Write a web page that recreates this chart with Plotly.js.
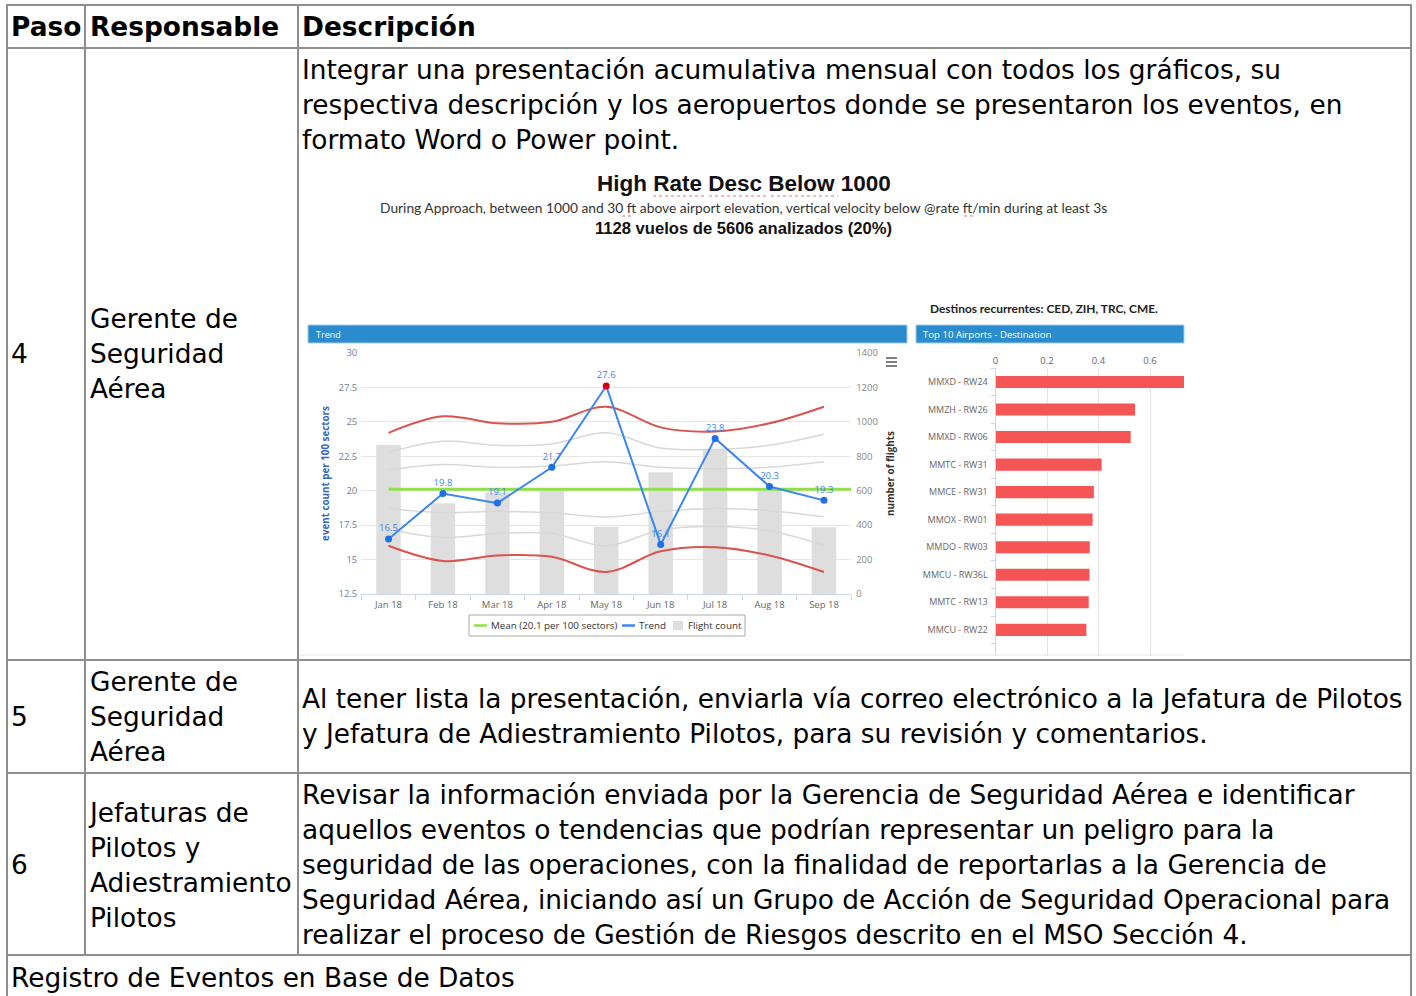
<!DOCTYPE html>
<html>
<head>
<meta charset="utf-8">
<script src="https://cdn.plot.ly/plotly-3.0.1.min.js"></script>
<style>
  html, body { margin: 0; padding: 0; background: #fff; }
  body { width: 1416px; height: 996px; position: relative; overflow: hidden;
         font-family: "DejaVu Sans", sans-serif; font-size: 26.4px; color: #000; }
  .hl { position: absolute; height: 2px; background: #8e8e8e; }
  .vl { position: absolute; width: 2px; background: #8e8e8e; }
  .tx { position: absolute; line-height: 35px; white-space: pre; }
  .b { font-weight: bold; }
  #chart { position: absolute; left: 300px; top: 160px; width: 890px; height: 500px; }
</style>
</head>
<body>
<!-- table grid -->
<div class="hl" style="left:6px; top:4px; width:1406px;"></div>
<div class="hl" style="left:6px; top:47px; width:1406px;"></div>
<div class="hl" style="left:6px; top:659px; width:1406px;"></div>
<div class="hl" style="left:6px; top:772px; width:1406px;"></div>
<div class="hl" style="left:6px; top:954px; width:1406px;"></div>
<div class="vl" style="left:6px; top:4px; height:1000px;"></div>
<div class="vl" style="left:1410px; top:4px; height:1000px;"></div>
<div class="vl" style="left:84px; top:4px; height:952px;"></div>
<div class="vl" style="left:297px; top:4px; height:952px;"></div>

<!-- header -->
<div class="tx b" style="left:11px; top:9px;">Paso</div>
<div class="tx b" style="left:90px; top:9px;">Responsable</div>
<div class="tx b" style="left:302px; top:9px;">Descripción</div>

<!-- row 4 -->
<div class="tx" style="left:11px; top:336px;">4</div>
<div class="tx" style="left:90px; top:301px;">Gerente de
Seguridad
Aérea</div>
<div class="tx" style="left:302px; top:52px;">Integrar una presentación acumulativa mensual con todos los gráficos, su
respectiva descripción y los aeropuertos donde se presentaron los eventos, en
formato Word o Power point.</div>

<!-- row 5 -->
<div class="tx" style="left:11px; top:699px;">5</div>
<div class="tx" style="left:90px; top:664px;">Gerente de
Seguridad
Aérea</div>
<div class="tx" style="left:302px; top:681px;">Al tener lista la presentación, enviarla vía correo electrónico a la Jefatura de Pilotos
y Jefatura de Adiestramiento Pilotos, para su revisión y comentarios.</div>

<!-- row 6 -->
<div class="tx" style="left:11px; top:847px;">6</div>
<div class="tx" style="left:90px; top:795px;">Jefaturas de
Pilotos y
Adiestramiento
Pilotos</div>
<div class="tx" style="left:302px; top:777px;">Revisar la información enviada por la Gerencia de Seguridad Aérea e identificar
aquellos eventos o tendencias que podrían representar un peligro para la
seguridad de las operaciones, con la finalidad de reportarlas a la Gerencia de
Seguridad Aérea, iniciando así un Grupo de Acción de Seguridad Operacional para
realizar el proceso de Gestión de Riesgos descrito en el MSO Sección 4.</div>

<!-- last row -->
<div class="tx" style="left:11px; top:960px;">Registro de Eventos en Base de Datos</div>

<div id="chart"></div>

<script>
// ---------- data ----------
const months = ['Jan 18', 'Feb 18', 'Mar 18', 'Apr 18', 'May 18', 'Jun 18', 'Jul 18', 'Aug 18', 'Sep 18'];
const trendValues = [16.5, 19.8, 19.1, 21.7, 27.6, 16.1, 23.8, 20.3, 19.3];
const flightCount = [865, 527, 590, 600, 390, 707, 841, 614, 388];
const upperLimit = [24.2, 25.4, 24.9, 25.0, 26.1, 24.6, 24.3, 24.9, 26.1];
const lowerLimit = [16.0, 14.9, 15.3, 15.2, 14.1, 15.6, 15.9, 15.3, 14.1];
const bandA = [22.8, 23.6, 23.3, 23.4, 24.2, 23.1, 23.0, 23.3, 24.1];
const bandB = [21.5, 21.9, 21.7, 21.8, 22.1, 21.7, 21.6, 21.7, 22.1];
const bandC = [18.7, 18.4, 18.5, 18.4, 18.1, 18.5, 18.7, 18.55, 18.1];
const bandD = [17.2, 16.6, 16.9, 16.9, 16.0, 17.15, 17.4, 17.1, 16.05];
const meanValue = 20.1;

const airports = ['MMXD - RW24', 'MMZH - RW26', 'MMXD - RW06', 'MMTC - RW31', 'MMCE - RW31',
                  'MMOX - RW01', 'MMDO - RW03', 'MMCU - RW36L', 'MMTC - RW13', 'MMCU - RW22'];
const airportRates = [0.75, 0.542, 0.525, 0.412, 0.382, 0.377, 0.366, 0.365, 0.362, 0.353];

const chartTitle = 'High Rate Desc Below 1000';
const chartSubtitle = 'During Approach, between 1000 and 30 ft above airport elevation, vertical velocity below @rate ft/min during at least 3s';
const chartSummary = '1128 vuelos de 5606 analizados (20%)';
const destinosText = 'Destinos recurrentes: CED, ZIH, TRC, CME.';

// ---------- helpers (pixel -> paper, chart div at 300,160 size 890x500) ----------
const W = 890, H = 500, OX = 300, OY = 160;
const fx = X => (X - OX) / W;
const fy = Y => 1 - (Y - OY) / H;

const idx = months.map((m, i) => i);
const bounds = months.map((m, i) => i - 0.5).concat([months.length - 0.5]);
const aIdx = airports.map((a, i) => i);
const aBounds = airports.map((a, i) => i - 0.5).concat([airports.length - 0.5]);
const maxI = trendValues.indexOf(Math.max(...trendValues));

const grayLine = {color: '#d8d8d8', width: 1.5, shape: 'spline'};
const redLine = {color: '#d9534f', width: 2, shape: 'spline'};

const traces = [
  {type: 'bar', x: idx, y: flightCount, width: 0.45,
   marker: {color: '#dedede'}, hoverinfo: 'skip', showlegend: false},
  {type: 'scatter', mode: 'lines', x: idx, y: bandA, yaxis: 'y2', line: grayLine, showlegend: false},
  {type: 'scatter', mode: 'lines', x: idx, y: bandB, yaxis: 'y2', line: grayLine, showlegend: false},
  {type: 'scatter', mode: 'lines', x: idx, y: bandC, yaxis: 'y2', line: grayLine, showlegend: false},
  {type: 'scatter', mode: 'lines', x: idx, y: bandD, yaxis: 'y2', line: grayLine, showlegend: false},
  {type: 'scatter', mode: 'lines', x: idx, y: upperLimit, yaxis: 'y2', line: redLine, showlegend: false},
  {type: 'scatter', mode: 'lines', x: idx, y: lowerLimit, yaxis: 'y2', line: redLine, showlegend: false},
  {type: 'scatter', mode: 'lines', x: [0, months.length - 0.5], y: [meanValue, meanValue], yaxis: 'y2',
   line: {color: '#8fe04a', width: 3}, showlegend: false},
  {type: 'scatter', mode: 'lines+markers+text', x: idx, y: trendValues, yaxis: 'y2',
   text: trendValues.map(v => v.toFixed(1)), textposition: 'top center',
   textfont: {size: 9.5, color: '#3b86f0', family: 'Open Sans'},
   line: {color: '#3b86f0', width: 2},
   marker: {size: 7, color: trendValues.map((v, i) => i === maxI ? '#d0021b' : '#1f6fe8')},
   showlegend: false},
  {type: 'bar', orientation: 'h', x: airportRates, y: aIdx, xaxis: 'x3', yaxis: 'y3', width: 0.44,
   marker: {color: '#f65555'}, showlegend: false}
];

const axFont = {family: 'Open Sans', size: 9.5, color: '#666'};

const layout = {
  width: W, height: H,
  margin: {l: 0, r: 0, t: 0, b: 0},
  paper_bgcolor: 'rgba(0,0,0,0)', plot_bgcolor: 'rgba(0,0,0,0)',
  showlegend: false,
  font: {family: 'Open Sans', size: 9.5, color: '#666'},
  xaxis: {domain: [fx(361.3), fx(851.2)], range: [-0.5, months.length - 0.5],
          tickvals: idx, ticktext: months, ticks: '', tickfont: axFont,
          showgrid: false, zeroline: false, showline: true, linecolor: '#ccd6eb', linewidth: 1,
          ticklabelstandoff: 2,
          minor: {tickvals: bounds, ticks: 'outside', ticklen: 5, tickcolor: '#ccd6eb', showgrid: false}},
  // flight count axis (right) carries the grid
  yaxis: {domain: [fy(594), fy(353)], side: 'right', range: [0, 1400], dtick: 200,
          tickfont: {family: 'Open Sans', size: 9.5, color: '#888'},
          gridcolor: '#e6e6e6', gridwidth: 1, zeroline: false, showline: false, ticklabelstandoff: 4,
          title: {text: '<b>number of flights</b>', standoff: 10,
                  font: {family: 'Open Sans', size: 9.8, color: '#333'}}},
  // event count axis (left)
  yaxis2: {overlaying: 'y', side: 'left', range: [12.5, 30], dtick: 2.5, tick0: 12.5,
           tickfont: {family: 'Open Sans', size: 9.5, color: '#6f7f9f'},
           showgrid: false, zeroline: false, showline: false, ticklabelstandoff: 3,
           title: {text: '<b>event count per 100 sectors</b>', standoff: 7,
                   font: {family: 'Open Sans', size: 9.8, color: '#3a66b5'}}},
  xaxis3: {anchor: 'y3', side: 'top', domain: [fx(995.5), fx(1184)], range: [0, 0.732],
           tick0: 0, dtick: 0.2, tickfont: axFont, showgrid: true, gridcolor: '#e3e3e3',
           zeroline: false, showline: false, ticks: '', ticklabelstandoff: 1},
  yaxis3: {anchor: 'x3', domain: [fy(656), fy(368.2)], range: [airports.length - 0.05, -0.5],
           tickvals: aIdx, ticktext: airports, tickfont: {family: 'Open Sans', size: 9, color: '#666'}, ticks: '',
           showgrid: false, zeroline: false, showline: true, linecolor: '#ccd6eb', linewidth: 1,
           ticklabelstandoff: 5,
           minor: {tickvals: aBounds, ticks: 'outside', ticklen: 4, tickcolor: '#ccd6eb', showgrid: false}},
  shapes: [
    // panel header bars
    {type: 'rect', xref: 'paper', yref: 'paper', x0: fx(308), x1: fx(907), y0: fy(343), y1: fy(325),
     fillcolor: '#2b8ccd', line: {color: '#9fcbea', width: 1}, layer: 'below'},
    {type: 'rect', xref: 'paper', yref: 'paper', x0: fx(916), x1: fx(1184), y0: fy(343), y1: fy(325),
     fillcolor: '#2b8ccd', line: {color: '#9fcbea', width: 1}, layer: 'below'},
    // export menu icon
    {type: 'line', xref: 'paper', yref: 'paper', x0: fx(886), x1: fx(897), y0: fy(358), y1: fy(358), line: {color: '#555', width: 1.5}},
    {type: 'line', xref: 'paper', yref: 'paper', x0: fx(886), x1: fx(897), y0: fy(362), y1: fy(362), line: {color: '#555', width: 1.5}},
    {type: 'line', xref: 'paper', yref: 'paper', x0: fx(886), x1: fx(897), y0: fy(366), y1: fy(366), line: {color: '#555', width: 1.5}},
    // legend box
    {type: 'rect', xref: 'paper', yref: 'paper', x0: fx(469), x1: fx(745), y0: fy(636), y1: fy(615),
     fillcolor: '#fff', line: {color: '#aaa', width: 1}},
    {type: 'line', xref: 'paper', yref: 'paper', x0: fx(474), x1: fx(487), y0: fy(625.5), y1: fy(625.5), line: {color: '#8fe04a', width: 2.5}},
    {type: 'line', xref: 'paper', yref: 'paper', x0: fx(622), x1: fx(635), y0: fy(625.5), y1: fy(625.5), line: {color: '#3b86f0', width: 2.5}},
    {type: 'rect', xref: 'paper', yref: 'paper', x0: fx(673), x1: fx(683), y0: fy(630), y1: fy(621), fillcolor: '#dedede', line: {width: 0}},
    // spell-check underlines in the pasted picture
    {type: 'line', xref: 'paper', yref: 'paper', x0: fx(653), x1: fx(705), y0: fy(196), y1: fy(196), line: {color: '#e57373', width: 1, dash: 'dot'}},
    {type: 'line', xref: 'paper', yref: 'paper', x0: fx(709), x1: fx(767), y0: fy(196), y1: fy(196), line: {color: '#e57373', width: 1, dash: 'dot'}},
    {type: 'line', xref: 'paper', yref: 'paper', x0: fx(771), x1: fx(838), y0: fy(196), y1: fy(196), line: {color: '#e57373', width: 1, dash: 'dot'}},
    {type: 'line', xref: 'paper', yref: 'paper', x0: fx(622), x1: fx(633), y0: fy(216), y1: fy(216), line: {color: '#e57373', width: 1, dash: 'dot'}},
    {type: 'line', xref: 'paper', yref: 'paper', x0: fx(964), x1: fx(975), y0: fy(216), y1: fy(216), line: {color: '#e57373', width: 1, dash: 'dot'}},
    // bottom edge of the picture
    {type: 'line', xref: 'paper', yref: 'paper', x0: fx(298), x1: fx(1184), y0: fy(655), y1: fy(655), line: {color: '#e6e6e6', width: 1}}
  ],
  annotations: [
    {xref: 'paper', yref: 'paper', x: fx(743.5), y: fy(183), text: '<b>' + chartTitle + '</b>', showarrow: false,
     font: {family: 'Liberation Sans', size: 22.5, color: '#111'}, xanchor: 'center', yanchor: 'middle'},
    {xref: 'paper', yref: 'paper', x: fx(743), y: fy(208), text: chartSubtitle, showarrow: false,
     font: {family: 'Lato', size: 13.8, color: '#333'}, xanchor: 'center', yanchor: 'middle'},
    {xref: 'paper', yref: 'paper', x: fx(743), y: fy(228), text: '<b>' + chartSummary + '</b>', showarrow: false,
     font: {family: 'Liberation Sans', size: 16.6, color: '#111'}, xanchor: 'center', yanchor: 'middle'},
    {xref: 'paper', yref: 'paper', x: fx(928), y: fy(308), text: '<b>' + destinosText + '</b>', showarrow: false,
     font: {family: 'Lato', size: 11.9, color: '#222'}, xanchor: 'left', yanchor: 'middle'},
    {xref: 'paper', yref: 'paper', x: fx(314), y: fy(334), text: 'Trend', showarrow: false,
     font: {family: 'Open Sans', size: 9, color: '#fff'}, xanchor: 'left', yanchor: 'middle'},
    {xref: 'paper', yref: 'paper', x: fx(921), y: fy(334), text: 'Top 10 Airports - Destination', showarrow: false,
     font: {family: 'Open Sans', size: 9.6, color: '#fff'}, xanchor: 'left', yanchor: 'middle'},
    {xref: 'paper', yref: 'paper', x: fx(489), y: fy(625.5), text: 'Mean (' + meanValue + ' per 100 sectors)', showarrow: false,
     font: {family: 'Open Sans', size: 9.8, color: '#333'}, xanchor: 'left', yanchor: 'middle'},
    {xref: 'paper', yref: 'paper', x: fx(637), y: fy(625.5), text: 'Trend', showarrow: false,
     font: {family: 'Open Sans', size: 9.8, color: '#333'}, xanchor: 'left', yanchor: 'middle'},
    {xref: 'paper', yref: 'paper', x: fx(686), y: fy(625.5), text: 'Flight count', showarrow: false,
     font: {family: 'Open Sans', size: 9.8, color: '#333'}, xanchor: 'left', yanchor: 'middle'}
  ]
};

Plotly.newPlot('chart', traces, layout, {displayModeBar: false, staticPlot: true});
</script>
</body>
</html>
